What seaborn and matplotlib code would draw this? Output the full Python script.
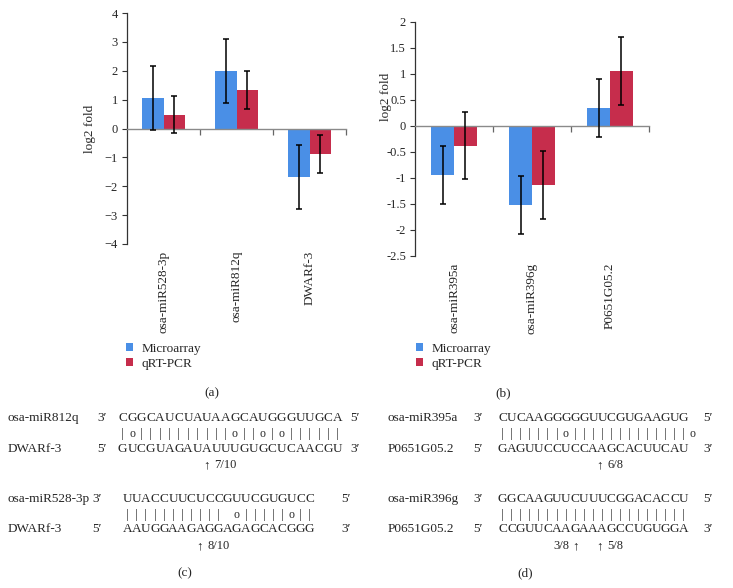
import numpy as np
import pandas as pd
import matplotlib
matplotlib.use("Agg")
import matplotlib.pyplot as plt
import seaborn as sns
from matplotlib.patches import Patch

# ---------------- data ----------------
series = ["Microarray", "qRT-PCR"]
colors = ["#4a8fe6", "#c62d4c"]

genes_a = ["osa-miR528-3p", "osa-miR812q", "DWARf-3"]
micro_a = [1.05, 2.00, -1.68]
micro_a_err = [1.10, 1.10, 1.12]
qpcr_a = [0.48, 1.33, -0.88]
qpcr_a_err = [0.64, 0.65, 0.65]
yticks_a = [-4, -3, -2, -1, 0, 1, 2, 3, 4]
yticklabels_a = ["\u22124", "\u22123", "\u22122", "\u22121", "0", "1", "2", "3", "4"]

genes_b = ["osa-miR395a", "osa-miR396g", "P0651G05.2"]
micro_b = [-0.94, -1.52, 0.35]
micro_b_err = [0.56, 0.56, 0.56]
qpcr_b = [-0.38, -1.13, 1.06]
qpcr_b_err = [0.64, 0.65, 0.65]
yticks_b = [-2.5, -2, -1.5, -1, -0.5, 0, 0.5, 1, 1.5, 2]
yticklabels_b = ["-2.5", "-2", "-1.5", "-1", "-0.5", "0", "0.5", "1", "1.5", "2"]

# sequence alignments (c) and (d)
c_names = ["osa-miR812q", "DWARf-3", "osa-miR528-3p", "DWARf-3"]
c_seqs = ["CGGCAUCUAUAAGCAUGGGUUGCA", "GUCGUAGAUAUUUGUGCUCAACGU",
          "UUACCUUCUCCGUUCGUGUCC", "AAUGGAAGAGGAGAGCACGGG"]
c_pairs = ["|o||||||||||o||o|o||||||", "||||||||||| o|||||o||"]
d_names = ["osa-miR395a", "P0651G05.2", "osa-miR396g", "P0651G05.2"]
d_seqs = ["CUCAAGGGGGUUCGUGAAGUG", "GAGUUCCUCCAAGCACUUCAU",
          "GGCAAGUUCUUUCGGACACCU", "CCGUUCAAGAAAGCCUGUGGA"]
d_pairs = ["|||||||o|||||||||||||o", "|||||||||||||||||||||"]

# ---------------- style ----------------
sns.set_theme(style="white")
plt.rcParams["font.family"] = ["Liberation Serif", "DejaVu Serif"]
plt.rcParams["axes.unicode_minus"] = True

W, H = 733, 588
fig = plt.figure(figsize=(W / 100, H / 100), dpi=100)
FS = 9.5
TFS = 9


def px(x, y):
    return x / W, 1 - y / H


def draw_panel(rect, genes, m, me, q, qe, ylim, yticks, yticklabels, ylab_xy):
    ax = fig.add_axes(rect)
    df = pd.DataFrame({
        "gene": genes * 2,
        "series": [series[0]] * len(genes) + [series[1]] * len(genes),
        "value": m + q,
    })
    sns.barplot(data=df, x="gene", y="value", hue="series", hue_order=series,
                palette=colors, width=0.58, errorbar=None, saturation=1,
                linewidth=0, legend=False, ax=ax)
    for cont, errs in zip(ax.containers, [me, qe]):
        xs = [p.get_x() + p.get_width() / 2 for p in cont]
        ax.errorbar(xs, cont.datavalues, yerr=errs, fmt="none", ecolor="black",
                    elinewidth=1.1, capsize=2.3, capthick=1.1, zorder=5)
    ax.set_ylim(*ylim)
    ax.set_xlim(-0.5, len(genes) - 0.5)
    ax.set_yticks(yticks)
    ax.set_yticklabels(yticklabels, fontsize=TFS)
    ax.tick_params(axis="y", direction="out", length=3.5, width=0.8,
                   color="#333333", pad=3, left=True)
    # zero line with category-boundary ticks
    ax.spines["bottom"].set_position(("data", 0))
    ax.spines["bottom"].set_color("#8a8a8a")
    ax.spines["bottom"].set_linewidth(1.0)
    ax.set_xticks([0.5, 1.5, 2.5])
    ax.set_xticklabels([])
    ax.tick_params(axis="x", direction="out", length=4, width=0.9,
                   color="#666666", bottom=True)
    for s in ["top", "right"]:
        ax.spines[s].set_visible(False)
    ax.spines["left"].set_color("#333333")
    ax.spines["left"].set_linewidth(0.9)
    ax.set_xlabel("")
    ax.set_ylabel("log2 fold", fontsize=FS)
    ax.yaxis.set_label_coords(*ylab_xy)
    # category labels at the bottom of the plot area
    sec = ax.secondary_xaxis("bottom")
    sec.set_xticks(range(len(genes)))
    sec.set_xticklabels(genes, rotation=90, fontsize=FS, va="top")
    sec.tick_params(length=0, pad=5)
    sec.spines["bottom"].set_visible(False)
    return ax


# panel (a)
ax_a = draw_panel([127 / W, 1 - 244 / H, 219 / W, 231 / H], genes_a,
                  micro_a, micro_a_err, qpcr_a, qpcr_a_err, (-4, 4),
                  yticks_a, yticklabels_a, (-0.14, 0.5))
# panel (b)
ax_b = draw_panel([415 / W, 1 - 256 / H, 234 / W, 234 / H], genes_b,
                  micro_b, micro_b_err, qpcr_b, qpcr_b_err, (-2.5, 2),
                  yticks_b, yticklabels_b, (-0.10, 0.68))

handles = [Patch(facecolor=c, edgecolor="none") for c in colors]
for lx in (126, 416):
    fig.legend(handles, series, loc="upper left", bbox_to_anchor=px(lx, 343),
               frameon=False, fontsize=FS, handlelength=0.55, handleheight=0.55,
               handletextpad=0.6, labelspacing=0.2, borderpad=0, borderaxespad=0)

for label, (x, y) in zip(["(a)", "(b)", "(c)", "(d)"],
                         [(212, 393), (503, 393), (185, 573), (525, 573)]):
    fig.text(*px(x, y), label, fontsize=FS, ha="center", va="center")

PR = "\u2032"


def seq_row(name, end_l, end_r, seq, y, name_x, endl_x, start_x, pitch, endr_x):
    fig.text(*px(name_x, y), name, fontsize=FS, ha="left", va="center")
    fig.text(*px(endl_x, y), end_l + PR, fontsize=FS, ha="left", va="center")
    for i, ch in enumerate(seq):
        fig.text(*px(start_x + pitch * (i + 0.5), y), ch, fontsize=FS,
                 ha="center", va="center")
    fig.text(*px(endr_x, y), end_r + PR, fontsize=FS, ha="left", va="center")


def pair_row(pairs, y, start_x, pitch):
    for i, ch in enumerate(pairs):
        if ch == " ":
            continue
        fig.text(*px(start_x + pitch * (i + 0.5), y), ch, fontsize=FS - 1 if ch == "o" else FS,
                 ha="center", va="center")


def arrow(x, y, label, side="right"):
    fig.text(*px(x, y), "\u2191", fontsize=FS, ha="center", va="center")
    if side == "right":
        fig.text(*px(x + 7, y), label, fontsize=FS - 0.5, ha="left", va="center")
    else:
        fig.text(*px(x - 7, y), label, fontsize=FS - 0.5, ha="right", va="center")


# (c)
seq_row(c_names[0], "3", "5", c_seqs[0], 418, 8, 97, 118, 9.35, 350)
pair_row(c_pairs[0], 434, 118, 9.35)
seq_row(c_names[1], "5", "3", c_seqs[1], 449, 8, 97, 118, 9.35, 350)
arrow(207, 465, "7/10")
seq_row(c_names[2], "3", "5", c_seqs[2], 499, 8, 92, 123, 9.1, 341)
pair_row(c_pairs[1], 515, 123, 9.1)
seq_row(c_names[3], "5", "3", c_seqs[3], 529, 8, 92, 123, 9.1, 341)
arrow(200, 546, "8/10")

# (d)
seq_row(d_names[0], "3", "5", d_seqs[0], 418, 388, 473, 498, 9.05, 703)
pair_row(d_pairs[0], 434, 498, 9.05)
seq_row(d_names[1], "5", "3", d_seqs[1], 449, 388, 473, 498, 9.05, 703)
arrow(600, 465, "6/8")
seq_row(d_names[2], "3", "5", d_seqs[2], 499, 388, 473, 498, 9.05, 703)
pair_row(d_pairs[1], 515, 498, 9.05)
seq_row(d_names[3], "5", "3", d_seqs[3], 529, 388, 473, 498, 9.05, 703)
arrow(576, 546, "3/8", side="left")
arrow(600, 546, "5/8")

fig.savefig("out.png", dpi=100)
